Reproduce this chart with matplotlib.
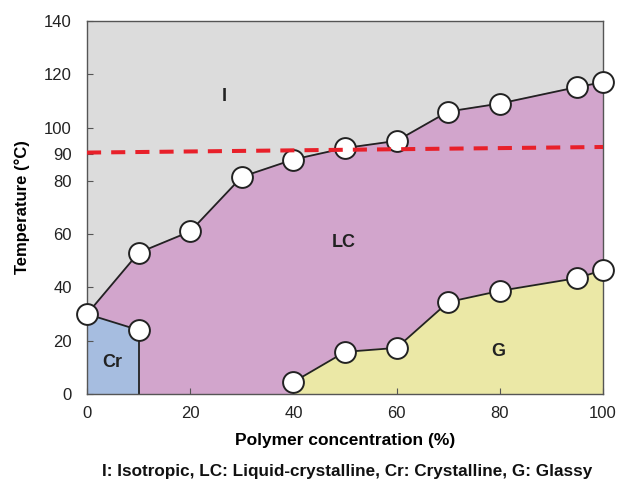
import numpy as np
import matplotlib
matplotlib.use('Agg')
import matplotlib.pyplot as plt

plt.rcParams['font.family'] = ['Liberation Sans', 'DejaVu Sans']

# Phase boundaries
conc_ilc = [0, 10, 20, 30, 40, 50, 60, 70, 80, 95, 100]
temp_ilc = [30, 53, 61, 81.5, 88, 92.3, 95, 106, 109, 115.2, 117]
conc_g = [40, 50, 60, 70, 80, 95, 100]
temp_g = [4.5, 15.8, 17.3, 34.5, 38.7, 43.5, 46.5]
conc_cr = [0, 10]
temp_cr = [30, 24]
conc_ref = [0, 100]
temp_ref = [90.6, 92.7]

region_labels = ['I', 'LC', 'Cr', 'G']
label_x = [26.5, 49.8, 4.8, 79.6]
label_y = [111.5, 57, 12, 15.8]

yticks = [0, 20, 40, 60, 80, 90, 100, 120, 140]

fig = plt.figure(figsize=(6.18, 4.84), dpi=100)
ax = fig.add_axes([0.1408, 0.186, 0.835, 0.7707])
ax.set_facecolor('#dcdcdc')

# LC region polygon
lc_x = np.concatenate([conc_ilc, conc_g[::-1], [conc_g[0], conc_cr[1], conc_cr[1]]])
lc_y = np.concatenate([temp_ilc, temp_g[::-1], [0, 0, temp_cr[1]]])
ax.fill(lc_x, lc_y, color='#d2a5cc', zorder=1)

# G region
g_x = np.concatenate([conc_g, [conc_g[-1], conc_g[0]]])
g_y = np.concatenate([temp_g, [0, 0]])
ax.fill(g_x, g_y, color='#ebe8a6', zorder=1)

# Cr region
cr_x = np.concatenate([[conc_cr[0]], conc_cr, [conc_cr[1]]])
cr_y = np.concatenate([[0], temp_cr, [0]])
ax.fill(cr_x, cr_y, color='#a6bde0', zorder=1)

# boundary lines
ax.plot(conc_cr, temp_cr, color='#222222', lw=1.3, zorder=2)
ax.plot([conc_cr[1], conc_cr[1]], [0, temp_cr[1]], color='#222222', lw=1.3, zorder=2)
ax.plot(conc_ilc, temp_ilc, color='#222222', lw=1.3, zorder=2)
ax.plot(conc_g, temp_g, color='#222222', lw=1.3, zorder=2)

# markers
mk = dict(marker='o', ms=15, mfc='white', mec='#222222', mew=1.4, ls='none', zorder=4, clip_on=False)
ax.plot(conc_ilc, temp_ilc, **mk)
ax.plot(conc_g, temp_g, **mk)
ax.plot(conc_cr[1:], temp_cr[1:], **mk)

# reference line at 90 °C (drawn over the markers)
ax.plot(conc_ref, temp_ref, color='#e8202a', lw=2.9, dashes=(3.5, 2.5), zorder=5)

for t, x, y in zip(region_labels, label_x, label_y):
    ax.text(x, y, t, ha='center', va='center', fontsize=13, fontweight='bold', color='#222222', zorder=6)

ax.set_xlim(0, 100)
ax.set_ylim(0, 140)
ax.set_xticks([0, 20, 40, 60, 80, 100])
ax.set_yticks(yticks)
ax.set_yticklabels([str(v) for v in yticks])
for lab in ax.get_yticklabels():
    if lab.get_text() == '90':
        lab.set_color('#e8202a')
ax.tick_params(direction='in', length=4, color='#555555', labelsize=12, labelcolor='#222222')
ax.tick_params(axis='y', pad=11)
ax.tick_params(axis='x', pad=9)
for s in ax.spines.values():
    s.set_color('#555555')
    s.set_linewidth(1.0)

ax.set_xlabel('Polymer concentration (%)', fontsize=12.5, fontweight='bold', labelpad=8)
ax.set_ylabel('Temperature (°C)', fontsize=12, fontweight='bold', labelpad=10)

fig.text(0.561, 0.025, 'I: Isotropic, LC: Liquid-crystalline, Cr: Crystalline, G: Glassy',
         ha='center', va='center', fontsize=12.3, fontweight='bold', color='#111111')

fig.savefig('out.png', dpi=100)
